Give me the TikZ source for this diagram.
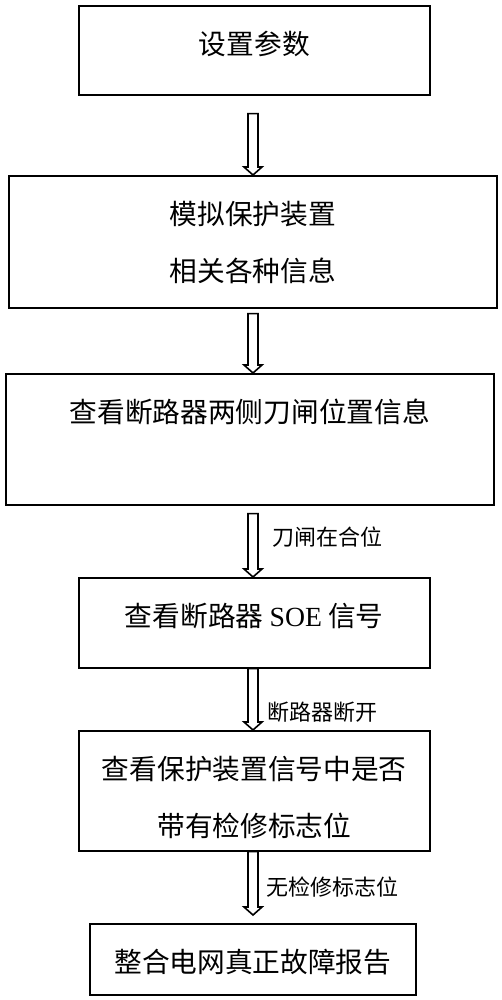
\documentclass[tikz,border=0pt]{standalone}
\usepackage{fontspec}
\setmainfont{Liberation Serif}
\newfontfamily\cjk{Noto Sans CJK SC}
\usetikzlibrary{calc}

\tikzset{
  box/.style={draw, line width=0.8pt, anchor=north west, inner sep=0pt, align=center,
    text height=24.5pt, font=\cjk\fontsize{13.85pt}{28.5pt}\selectfont},
  twoline/.style={text height=53pt},
  note/.style={anchor=west, inner sep=0pt, font=\cjk\fontsize{11pt}{13pt}\selectfont},
  hollow/.style={line width=0.8pt, to path={let \p1=(\tikztostart), \p2=(\tikztotarget), \p3=(axis) in
    (\x3-2.5pt,\y1) -- (\x3-2.5pt,\y2+4pt) -- (\x3-4.5pt,\y2+4pt) -- (\x3,\y2)
    -- (\x3+4.5pt,\y2+4pt) -- (\x3+2.5pt,\y2+4pt) -- (\x3+2.5pt,\y1) -- cycle}}
}

\begin{document}
\begin{tikzpicture}[x=0.5pt, y=-0.5pt]
  \useasboundingbox (0,0) rectangle (502,1000);
  \coordinate (axis) at (253,0);

  % steps
  \node[box, minimum width=175.5pt, text depth=20pt] (b1) at (78,5) {设置参数};
  \node[box, twoline, minimum width=244pt, text depth=13pt] (b2) at (8,175) {模拟保护装置\\相关各种信息};
  \node[box, minimum width=244pt, text depth=41pt] (b3) at (5,373) {查看断路器两侧刀闸位置信息};
  \node[box, minimum width=175.5pt, text depth=20.5pt] (b4) at (78,577) {查看断路器 {\rmfamily SOE} 信号};
  \node[box, twoline, minimum width=175.5pt, text depth=7pt] (b5) at (78,730) {查看保护装置信号中是否\\带有检修标志位};
  \node[box, minimum width=163pt, text depth=11pt] (b6) at (89,923) {整合电网真正故障报告};

  % arrows
  \draw[hollow] ([yshift=-9pt]b1.south) to (b2.north);
  \draw[hollow] ([yshift=-2.5pt]b2.south) to (b3.north);
  \draw[hollow] ([yshift=-4pt]b3.south) to (b4.north);
  \draw[hollow] (b4.south) to (b5.north);
  \draw[hollow] (b5.south) to ([yshift=4pt]b6.north);

  % conditions
  \node[note] (c3) at (272,537) {刀闸在合位};
  \node[note] (c4) at (267,712) {断路器断开};
  \node[note] (c5) at (266,887) {无检修标志位};
\end{tikzpicture}
\end{document}
